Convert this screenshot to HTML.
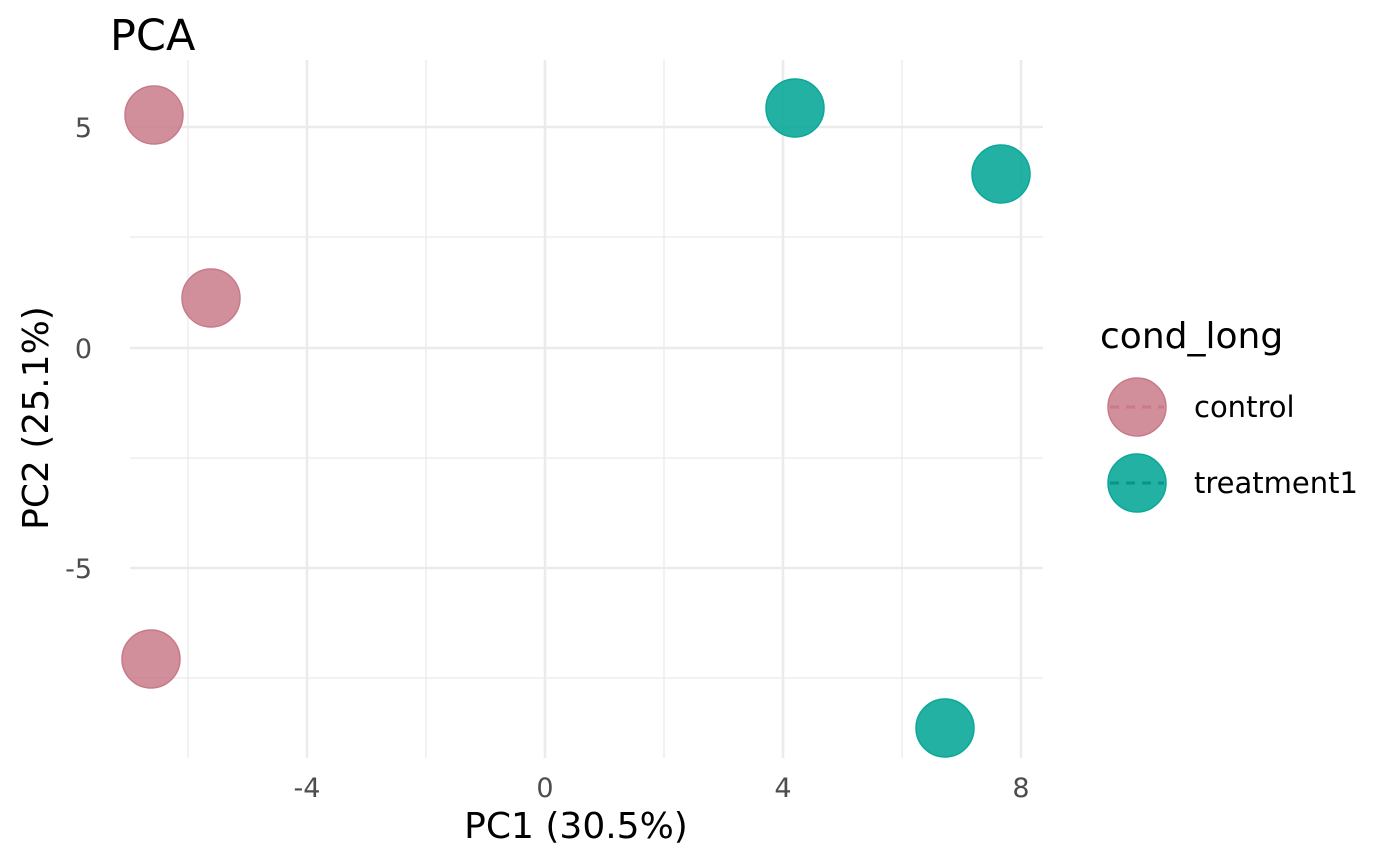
<!DOCTYPE html>
<html><head><style>body{margin:0;background:#fff}svg{display:block}</style></head>
<body>
<svg width="1400" height="866" xmlns="http://www.w3.org/2000/svg" font-family="'DejaVu Sans','Liberation Sans',sans-serif">
<rect width="1400" height="866" fill="#fff"/>
<g stroke="#ebebeb" stroke-width="1.3">
<line x1="188" y1="60" x2="188" y2="758"/><line x1="426" y1="60" x2="426" y2="758"/>
<line x1="664" y1="60" x2="664" y2="758"/><line x1="902" y1="60" x2="902" y2="758"/>
<line x1="130" y1="237" x2="1043" y2="237"/><line x1="130" y1="458" x2="1043" y2="458"/>
<line x1="130" y1="678" x2="1043" y2="678"/>
</g>
<g stroke="#ebebeb" stroke-width="2.6">
<line x1="307" y1="60" x2="307" y2="758"/><line x1="545" y1="60" x2="545" y2="758"/>
<line x1="783" y1="60" x2="783" y2="758"/><line x1="1021" y1="60" x2="1021" y2="758"/>
<line x1="130" y1="127" x2="1043" y2="127"/><line x1="130" y1="348" x2="1043" y2="348"/>
<line x1="130" y1="568" x2="1043" y2="568"/>
</g>
<g fill="#c97a8a" fill-opacity="0.85" stroke="#c97a8a" stroke-width="1.5">
<circle cx="154" cy="115" r="29"/><circle cx="211" cy="298" r="29"/><circle cx="151" cy="659" r="29"/>
</g>
<g fill="#0ba89a" fill-opacity="0.9" stroke="#0ba89a" stroke-width="1.5">
<circle cx="795" cy="108" r="29"/><circle cx="1001" cy="174" r="29"/><circle cx="945" cy="728" r="29"/>
</g>
<g font-size="27" fill="#4d4d4d">
<text x="307" y="797" text-anchor="middle">-4</text><text x="545" y="797" text-anchor="middle">0</text>
<text x="783" y="797" text-anchor="middle">4</text><text x="1021" y="797" text-anchor="middle">8</text>
<text x="92" y="137" text-anchor="end">5</text><text x="92" y="358" text-anchor="end">0</text>
<text x="92" y="578" text-anchor="end">-5</text>
</g>
<text x="576" y="838" font-size="36" text-anchor="middle" fill="#000">PC1 (30.5%)</text>
<text transform="translate(48,418) rotate(-90)" font-size="36" text-anchor="middle" fill="#000">PC2 (25.1%)</text>
<text x="110" y="50" font-size="43" fill="#000">PCA</text>
<text x="1100" y="348" font-size="36" fill="#000">cond_long</text>
<circle cx="1137" cy="407" r="29" fill="#c97a8a" fill-opacity="0.85" stroke="#c97a8a" stroke-width="1.5"/>
<line x1="1110" y1="407" x2="1164" y2="407" stroke="#c97a8a" stroke-width="3" stroke-dasharray="9,7"/>
<circle cx="1137" cy="483" r="29" fill="#0ba89a" fill-opacity="0.9" stroke="#0ba89a" stroke-width="1.5"/>
<line x1="1110" y1="483" x2="1164" y2="483" stroke="#0a9488" stroke-width="3" stroke-dasharray="9,7"/>
<text x="1194" y="417" font-size="29" fill="#000">control</text>
<text x="1194" y="493" font-size="29" fill="#000">treatment1</text>
</svg>
</body></html>
